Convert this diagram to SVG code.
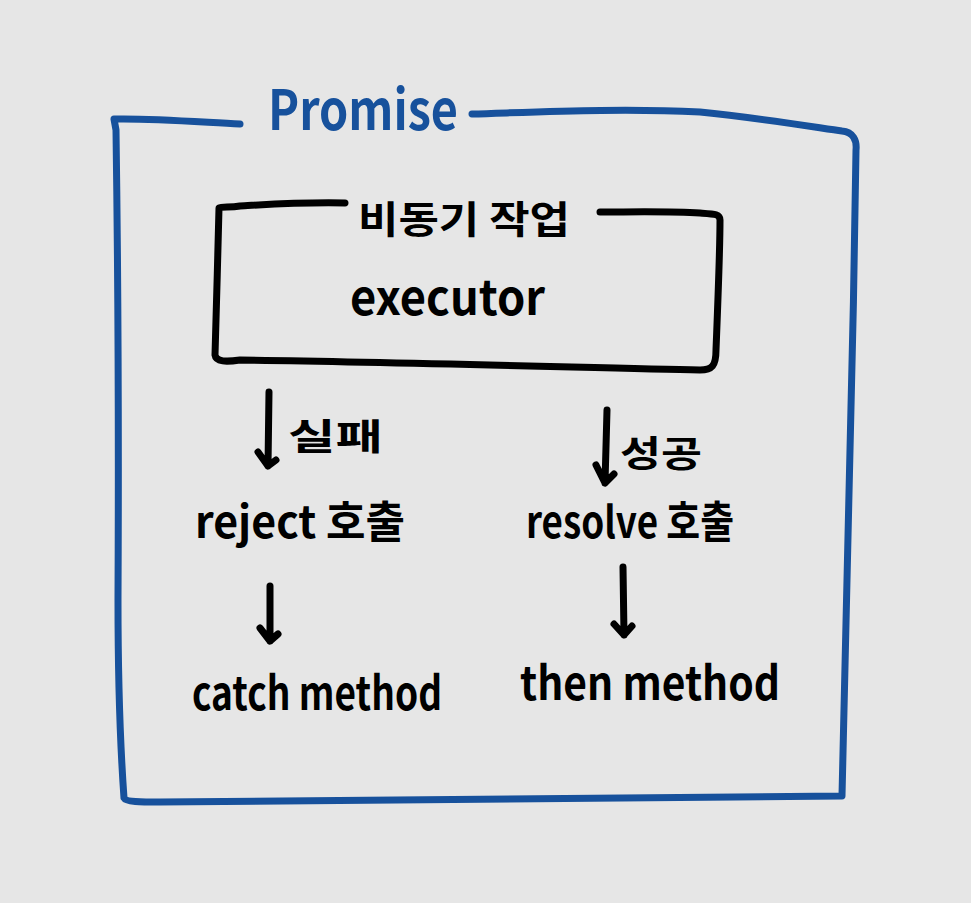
<svg xmlns="http://www.w3.org/2000/svg" width="971" height="903" viewBox="0 0 971 903">
<style>
.blue{fill:none;stroke:#17519c;stroke-width:7;stroke-linecap:round;stroke-linejoin:round}
.ink{fill:none;stroke:#000;stroke-width:7;stroke-linecap:round;stroke-linejoin:round}
.t{font-family:"Noto Sans CJK KR","Noto Sans",sans-serif;fill:#000;font-weight:700}
.tb{font-family:"Noto Sans CJK KR","Noto Sans",sans-serif;fill:#17519c;font-weight:700}
</style>
<rect x="0" y="0" width="971" height="903" fill="#e6e6e6"/>
<g id="promise">
<path class="blue" d="M240,124 C200,122 150,118 114,119 L116,130 C117,200 119,400 118,600 C118,700 122,770 124,798 C126,802 140,802 160,802 C400,800 700,798 842,796 C846,700 852,400 856,150 C857,140 853,132 842,131 C820,128 760,118 700,112 C620,108 540,112 472,114"/>
<text class="tb" x="268" y="130" font-size="56" textLength="190" lengthAdjust="spacingAndGlyphs">Promise</text>
</g>
<g id="executor">
<path class="ink" d="M345,203 C300,202 260,205 240,206 C230,208 222,206 219,208 C218,250 216,320 215,355 C216,362 226,362 240,360 C400,362 600,368 700,370 C712,370 716,366 716,350 C718,300 720,250 720,220 C720,214 715,214 700,213 C670,211 630,212 600,212"/>
<text class="t" x="358" y="233" font-size="38" textLength="212" lengthAdjust="spacingAndGlyphs">비동기 작업</text>
<text class="t" x="350" y="315" font-size="48" textLength="195" lengthAdjust="spacingAndGlyphs">executor</text>
</g>
<g id="reject">
<text class="t" x="195" y="538" font-size="44" textLength="210" lengthAdjust="spacingAndGlyphs">reject 호출</text>
</g>
<g id="resolve">
<text class="t" x="526" y="538" font-size="44" textLength="208" lengthAdjust="spacingAndGlyphs">resolve 호출</text>
</g>
<g id="catch">
<text class="t" x="192" y="710" font-size="46" textLength="250" lengthAdjust="spacingAndGlyphs">catch method</text>
</g>
<g id="then">
<text class="t" x="520" y="700" font-size="46" textLength="260" lengthAdjust="spacingAndGlyphs">then method</text>
</g>
<g id="connectors">
<path class="ink" d="M269,392 L268,466 M258,452 L268,466 L276,460"/>
<text class="t" x="288" y="450" font-size="36" textLength="95" lengthAdjust="spacingAndGlyphs">실패</text>
<path class="ink" d="M607,410 L605,483 M596,465 L605,483 L614,474"/>
<text class="t" x="620" y="467" font-size="36" textLength="82" lengthAdjust="spacingAndGlyphs">성공</text>
<path class="ink" d="M270,586 L270,641 M260,628 L270,641 L278,634"/>
<path class="ink" d="M623,567 L624,635 M614,624 L624,635 L632,626"/>
</g>
</svg>
